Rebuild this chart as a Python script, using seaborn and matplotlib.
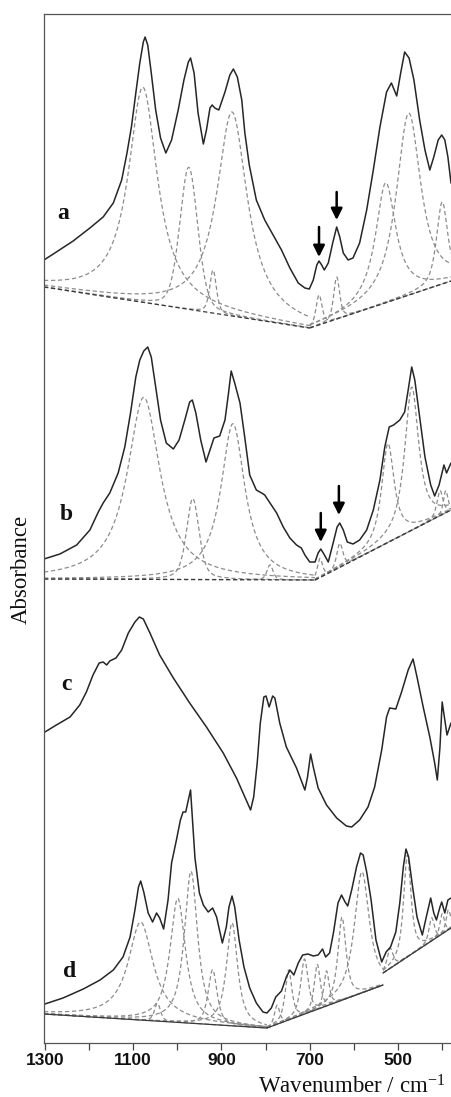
import numpy as np
import pandas as pd
import matplotlib
matplotlib.use("Agg")
import matplotlib.pyplot as plt
import seaborn as sns

# ------------------------------------------------------------------ data
TICKS_MAJOR = [1300, 1100, 900, 700, 500]
TICKS_MINOR = [1200, 1000, 800, 600, 400]
X_LABEL = "Wavenumber / cm$^{-1}$"
Y_LABEL = "Absorbance"
PANEL_LABELS = ["a", "b", "c", "d"]

# measured spectra (wavenumber / cm-1, absorbance with vertical offsets)
A_WN = [1302, 1274, 1236, 1198, 1168, 1145, 1126, 1114, 1104, 1094, 1085, 1077,
        1073, 1067, 1059, 1049, 1038, 1026, 1013, 998, 985, 975, 970, 962, 953,
        941, 934, 926, 921, 915, 906, 892, 881, 873, 864, 854, 847, 837, 821,
        802, 783, 764, 745, 726, 711, 701, 692, 684, 679, 673, 667, 658, 648,
        639, 632, 624, 613, 602, 587, 571, 556, 541, 526, 515, 503, 494, 485,
        475, 464, 451, 439, 428, 419, 409, 401, 394, 387, 380]
A_ABS = [7.83, 7.91, 8.02, 8.15, 8.26, 8.40, 8.63, 8.90, 9.16, 9.50, 9.80, 10.01,
         10.06, 9.98, 9.70, 9.33, 9.05, 8.90, 9.03, 9.33, 9.63, 9.81, 9.85, 9.70,
         9.30, 8.99, 9.13, 9.35, 9.38, 9.35, 9.33, 9.51, 9.68, 9.74, 9.66, 9.43,
         9.10, 8.78, 8.43, 8.23, 8.08, 7.93, 7.75, 7.60, 7.55, 7.54, 7.63, 7.78,
         7.82, 7.78, 7.73, 7.80, 8.00, 8.16, 8.06, 7.90, 7.83, 7.85, 8.00, 8.33,
         8.73, 9.16, 9.51, 9.60, 9.47, 9.70, 9.91, 9.85, 9.63, 9.23, 8.93, 8.73,
         8.86, 9.03, 9.08, 9.03, 8.86, 8.60]

B_WN = [1302, 1266, 1228, 1198, 1179, 1168, 1153, 1134, 1119, 1106, 1094, 1085,
        1076, 1067, 1059, 1049, 1038, 1025, 1009, 996, 983, 972, 966, 958, 947,
        935, 926, 917, 904, 892, 884, 878, 870, 858, 847, 836, 821, 809, 802,
        790, 775, 760, 745, 730, 719, 711, 700, 688, 681, 675, 668, 658, 647,
        638, 632, 624, 615, 602, 587, 571, 556, 541, 530, 520, 510, 496, 485,
        477, 469, 462, 451, 439, 426, 417, 407, 396, 390, 380]
B_ABS = [4.84, 4.89, 4.98, 5.13, 5.31, 5.40, 5.50, 5.70, 5.96, 6.30, 6.66, 6.83,
         6.92, 6.96, 6.86, 6.56, 6.23, 6.00, 5.94, 6.03, 6.23, 6.41, 6.43, 6.30,
         6.03, 5.81, 5.93, 6.05, 6.07, 6.23, 6.50, 6.72, 6.60, 6.40, 6.05, 5.68,
         5.53, 5.50, 5.48, 5.40, 5.30, 5.16, 5.05, 4.98, 4.95, 4.88, 4.81, 4.81,
         4.90, 4.94, 4.89, 4.81, 5.00, 5.16, 5.20, 5.13, 5.01, 4.99, 5.03, 5.13,
         5.33, 5.63, 5.96, 6.16, 6.18, 6.23, 6.31, 6.53, 6.76, 6.63, 6.26, 5.86,
         5.58, 5.47, 5.58, 5.78, 5.70, 5.80]

C_WN = [1300, 1274, 1243, 1221, 1206, 1191, 1177, 1168, 1160, 1153, 1139, 1126,
        1111, 1096, 1086, 1077, 1062, 1040, 1009, 972, 934, 896, 866, 847, 834,
        827, 819, 812, 804, 799, 792, 784, 779, 768, 753, 730, 711, 705, 698,
        692, 681, 662, 639, 617, 605, 587, 568, 553, 537, 526, 519, 505, 492,
        477, 466, 457, 443, 428, 417, 411, 405, 400, 394, 389, 380]
C_ABS = [3.11, 3.18, 3.26, 3.38, 3.51, 3.68, 3.80, 3.81, 3.78, 3.82, 3.85, 3.93,
         4.10, 4.21, 4.26, 4.24, 4.10, 3.88, 3.65, 3.40, 3.16, 2.90, 2.65, 2.46,
         2.33, 2.46, 2.80, 3.20, 3.46, 3.47, 3.36, 3.47, 3.45, 3.20, 2.96, 2.75,
         2.53, 2.66, 2.89, 2.76, 2.55, 2.38, 2.25, 2.17, 2.16, 2.23, 2.36, 2.56,
         2.93, 3.26, 3.35, 3.34, 3.51, 3.73, 3.84, 3.66, 3.36, 3.06, 2.80, 2.63,
         2.96, 3.41, 3.23, 3.08, 3.20]

D_WN = [1300, 1259, 1213, 1175, 1145, 1123, 1107, 1096, 1088, 1083, 1076, 1066,
        1056, 1047, 1040, 1031, 1021, 1013, 1002, 993, 987, 981, 970, 960, 950,
        941, 930, 920, 911, 898, 889, 883, 876, 870, 860, 849, 836, 821, 806,
        797, 787, 777, 764, 753, 745, 736, 726, 716, 704, 692, 681, 671, 664,
        655, 646, 636, 628, 620, 614, 605, 594, 585, 579, 571, 561, 550, 537,
        527, 517, 505, 496, 488, 482, 476, 467, 457, 445, 436, 426, 419, 413,
        405, 401, 394, 387, 380]
D_ABS = [0.39, 0.45, 0.54, 0.63, 0.73, 0.86, 1.06, 1.33, 1.56, 1.62, 1.51, 1.30,
         1.21, 1.30, 1.25, 1.14, 1.43, 1.80, 2.03, 2.23, 2.31, 2.31, 2.53, 1.85,
         1.50, 1.38, 1.31, 1.35, 1.26, 1.00, 1.16, 1.36, 1.47, 1.36, 1.03, 0.76,
         0.55, 0.40, 0.31, 0.30, 0.35, 0.46, 0.52, 0.66, 0.73, 0.68, 0.80, 0.88,
         0.89, 0.87, 0.88, 0.94, 0.86, 0.90, 1.11, 1.40, 1.48, 1.41, 1.37, 1.53,
         1.76, 1.90, 1.88, 1.71, 1.43, 1.03, 0.81, 0.91, 0.96, 1.11, 1.40, 1.76,
         1.94, 1.86, 1.56, 1.26, 1.08, 1.26, 1.45, 1.30, 1.23, 1.36, 1.41, 1.30,
         1.43, 1.45]

# fitting regions (start, end wavenumber) and linear baselines (start, end absorbance)
A_REGION_WN = [(1302, 700), (700, 380)]
A_REGION_BASE = [(7.56, 7.15), (7.15, 7.62)]
B_REGION_WN = [(1302, 688), (688, 380)]
B_REGION_BASE = [(4.64, 4.63), (4.63, 5.33)]
D_REGION_WN = [(1302, 797), (797, 534), (534, 380)]
D_REGION_BASE = [(0.29, 0.15), (0.15, 0.58), (0.70, 1.15)]

# fitted band components: centre, height above baseline, half width, Lorentz fraction, region
A_BAND_CENTER = [1078, 974, 919, 876, 679, 639, 528, 476, 400]
A_BAND_HEIGHT = [2.15, 1.42, 0.43, 2.04, 0.30, 0.42, 1.20, 1.82, 0.82]
A_BAND_HWHM = [40, 24, 9, 42, 8, 8, 28, 33, 15]
A_BAND_ETA = [1.0, 0.3, 0.5, 1.0, 0.5, 0.5, 1.0, 0.9, 0.7]
A_BAND_REGION = [0, 0, 0, 0, 1, 1, 1, 1, 1]

B_BAND_CENTER = [1076, 965, 874, 790, 677, 632, 523, 469, 405, 392]
B_BAND_HEIGHT = [1.82, 0.81, 1.56, 0.15, 0.19, 0.24, 0.99, 1.43, 0.25, 0.22]
B_BAND_HWHM = [45, 17, 33, 8, 7, 8, 17, 19, 8, 6]
B_BAND_ETA = [1.0, 0.5, 1.0, 0.5, 0.5, 0.5, 0.9, 0.9, 0.6, 0.6]
B_BAND_REGION = [0, 0, 0, 0, 1, 1, 1, 1, 1, 1]

D_BAND_CENTER = [1083, 1045, 999, 969, 920, 876, 774, 748, 712, 683, 662, 627,
                 582, 518, 479, 424, 400, 386]
D_BAND_HEIGHT = [0.98, 0.18, 1.24, 1.52, 0.55, 1.03, 0.19, 0.50, 0.55, 0.45,
                 0.35, 0.83, 1.21, 0.20, 1.02, 0.23, 0.20, 0.20]
D_BAND_HWHM = [34, 8, 21, 18, 12, 15, 7, 9, 10, 8, 7, 11, 20, 8, 10, 7, 6, 6]
D_BAND_ETA = [1.0, 0.6, 0.9, 0.9, 0.7, 0.9, 0.6, 0.7, 0.7, 0.7, 0.7, 0.8,
              0.9, 0.6, 0.8, 0.6, 0.6, 0.6]
D_BAND_REGION = [0, 0, 0, 0, 0, 0, 1, 1, 1, 1, 1, 1, 1, 2, 2, 2, 2, 2]

# marker arrows (wavenumber, tail absorbance, tip absorbance)
A_ARROW_WN = [679, 639]
A_ARROW_TAIL = [8.16, 8.51]
A_ARROW_TIP = [7.86, 8.23]
B_ARROW_WN = [675, 634]
B_ARROW_TAIL = [5.30, 5.57]
B_ARROW_TIP = [5.01, 5.28]

# ------------------------------------------------------------------ style
sns.set_style("ticks")
plt.rcParams["font.family"] = ["Liberation Serif", "DejaVu Serif"]
plt.rcParams["mathtext.fontset"] = "custom"
plt.rcParams["mathtext.rm"] = "Liberation Serif"
plt.rcParams["mathtext.it"] = "Liberation Serif:italic"

SOLID = "#262626"
COMP = "#8c8c8c"
BASE = "#3a3a3a"
DASH = (0, (3.4, 2.2))

fig = plt.figure(figsize=(4.51, 10.97), dpi=100)
ax = fig.add_axes([44 / 451, 54 / 1097, 407 / 451, 1029 / 1097])


def pseudo_voigt(wn, c, h, w, eta):
    x = (wn - c) / w
    return h * (eta / (1.0 + x ** 2) + (1.0 - eta) * np.exp(-np.log(2.0) * x ** 2))


def draw_components(region_wn, region_base, centers, heights, hwhm, eta, region,
                    base_style):
    rows = []
    for i, (c, h, w, e, r) in enumerate(zip(centers, heights, hwhm, eta, region)):
        r0, r1 = region_wn[r]
        b0, b1 = region_base[r]
        grid = np.linspace(r0, r1, 500)
        base = b0 + (grid - r0) * (b1 - b0) / (r1 - r0)
        y = base + pseudo_voigt(grid, c, h, w, e)
        rows.append(pd.DataFrame({"wn": grid, "A": y, "band": i}))
    df = pd.concat(rows, ignore_index=True)
    sns.lineplot(data=df, x="wn", y="A", units="band", estimator=None, sort=False,
                 color=COMP, linewidth=0.9, linestyle=DASH, ax=ax)
    brow = []
    for k, ((r0, r1), (b0, b1)) in enumerate(zip(region_wn, region_base)):
        brow.append(pd.DataFrame({"wn": [r0, r1], "A": [b0, b1], "seg": k}))
    bdf = pd.concat(brow, ignore_index=True)
    sns.lineplot(data=bdf, x="wn", y="A", units="seg", estimator=None, sort=False,
                 color=BASE, linewidth=0.9, linestyle=base_style, ax=ax)


draw_components(A_REGION_WN, A_REGION_BASE, A_BAND_CENTER, A_BAND_HEIGHT,
                A_BAND_HWHM, A_BAND_ETA, A_BAND_REGION, DASH)
draw_components(B_REGION_WN, B_REGION_BASE, B_BAND_CENTER, B_BAND_HEIGHT,
                B_BAND_HWHM, B_BAND_ETA, B_BAND_REGION, DASH)
draw_components(D_REGION_WN, D_REGION_BASE, D_BAND_CENTER, D_BAND_HEIGHT,
                D_BAND_HWHM, D_BAND_ETA, D_BAND_REGION, "-")

for wn, ab in [(A_WN, A_ABS), (B_WN, B_ABS), (C_WN, C_ABS), (D_WN, D_ABS)]:
    sns.lineplot(x=wn, y=ab, sort=False, estimator=None, color=SOLID,
                 linewidth=1.1, ax=ax)

for xs, tails, tips in [(A_ARROW_WN, A_ARROW_TAIL, A_ARROW_TIP),
                        (B_ARROW_WN, B_ARROW_TAIL, B_ARROW_TIP)]:
    for x, t0, t1 in zip(xs, tails, tips):
        ax.annotate("", xy=(x, t1), xytext=(x, t0),
                    arrowprops=dict(arrowstyle="-|>", color="black", lw=1.8,
                                    mutation_scale=17, shrinkA=0, shrinkB=0))

label_pos = [(1259, 8.24), (1252, 5.23), (1252, 3.53), (1243, 0.66)]
for lab, (x, y) in zip(PANEL_LABELS, label_pos):
    ax.text(x, y, lab, ha="center", va="baseline", fontsize=17,
            fontweight="bold", family=["Liberation Serif", "DejaVu Serif"],
            color="#111111")

# ------------------------------------------------------------------ axes
ax.set_xlim(1302, 380)
ax.set_ylim(0, 10.29)
ax.set_xticks(TICKS_MAJOR)
ax.set_xticks(TICKS_MINOR, minor=True)
ax.set_xticklabels([str(t) for t in TICKS_MAJOR], fontweight="bold", fontsize=12.5,
                   family=["Liberation Sans", "DejaVu Sans"], color="#111111")
ax.set_yticks([])
ax.tick_params(axis="x", which="both", direction="out", length=5, width=0.9,
               color="#444444", pad=2)
for side in ["left", "bottom", "top"]:
    ax.spines[side].set_visible(True)
    ax.spines[side].set_color("#555555")
    ax.spines[side].set_linewidth(0.9)
ax.spines["right"].set_visible(False)

ax.set_xlabel(X_LABEL, fontsize=16.5, color="#111111")
ax.xaxis.set_label_coords((352 - 44) / 407, (1043 - 1075) / 1029)
ax.set_ylabel(Y_LABEL, fontsize=16.5, color="#111111")
ax.yaxis.label.set_rotation_mode("anchor")
ax.yaxis.label.set_va("center")
ax.yaxis.set_label_coords((21 - 44) / 407, (1043 - 569) / 1029)

fig.savefig("out.png", dpi=100)
